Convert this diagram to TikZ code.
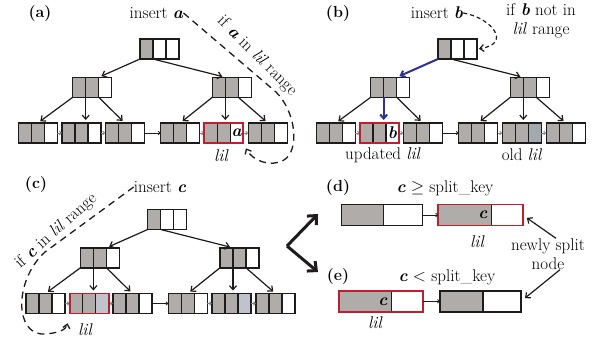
\documentclass[tikz,border=0pt]{standalone}
\usetikzlibrary{arrows.meta,calc,positioning}

\definecolor{keygray}{RGB}{176,172,170}
\definecolor{oldgray}{RGB}{164,168,175}
\definecolor{newgray}{RGB}{192,195,203}
\definecolor{lilred}{RGB}{190,30,45}
\definecolor{pathblue}{RGB}{46,49,146}
\definecolor{edge}{RGB}{30,27,28}

\tikzset{
  cell/.style={draw=edge,line width=1.5pt,fill=keygray,minimum width=13pt,minimum height=20pt,inner sep=0pt,outer sep=0pt},
  half/.style={draw=edge,line width=1.5pt,minimum height=21pt,inner sep=0pt,outer sep=0pt},
  ptr/.style={-{Straight Barb[length=4pt,width=7pt]},line width=1.2pt,draw=edge,shorten >=3pt},
  hot/.style={ptr,draw=pathblue,line width=2pt},
  link/.style={-{Straight Barb[length=2pt,width=3.5pt]},line width=0.8pt,draw=gray},
  lilbox/.style={draw=lilred,line width=1.9pt},
  txt/.style={font=\fontsize{17}{19}\selectfont,inner sep=0pt},
  tag/.style={font=\fontsize{16}{18}\selectfont\bfseries,inner sep=0pt},
  lil/.style={font=\fontsize{17}{19}\selectfont\itshape,inner sep=0pt},
  dashc/.style={draw=edge,line width=1.3pt,dash pattern=on 7pt off 5pt},
  dotc/.style={draw=edge,line width=1.2pt,dash pattern=on 4pt off 3pt},
  big/.style={-{Straight Barb[length=7pt,width=13pt]},line width=3pt,draw=edge},
}

% one tree node of three keys: name, first cell, fill of 2nd and 3rd cell
\newcommand{\keynode}[4]{%
  \node[cell] (#1-1) at (#2) {};
  \node[cell,fill=#3,right=0pt of #1-1] (#1-2) {};
  \node[cell,fill=#4,right=0pt of #1-2] (#1-3) {};
}

% the whole tree: prefix, last cell of leaf b, last cell of leaf e, style of path to leaf b
\newcommand{\btree}[4]{%
  \keynode{#1r}{146.5,49}{white}{white}
  \keynode{#1L}{79.2,87.3}{keygray}{white}
  \keynode{#1R}{218.8,87.3}{keygray}{white}
  \keynode{#1a}{24.8,133}{keygray}{white}
  \keynode{#1b}{68.5,133}{keygray}{#2}
  \keynode{#1c}{111.8,133}{keygray}{white}
  \keynode{#1d}{167.2,133}{keygray}{white}
  \keynode{#1e}{210.8,133}{keygray}{#3}
  \keynode{#1f}{254.8,133}{keygray}{white}
  \draw[#4] (#1r-1.south west) -- (#1L-2.north east);
  \draw[ptr] (#1r-1.south east) -- (#1R-1.north east);
  \draw[ptr] (#1L-1.south west) -- (#1a-2.north);
  \draw[#4] (#1L-1.south east) -- (#1L-1.south east |- #1b-2.north);
  \draw[ptr] (#1L-2.south east) -- (#1c-2.north);
  \draw[ptr] (#1R-1.south west) -- (#1d-2.north);
  \draw[ptr] (#1R-1.south east) -- (#1R-1.south east |- #1e-2.north);
  \draw[ptr] (#1R-2.south east) -- (#1f-2.north);
  \draw[link] (#1a-3.east) -- (#1b-1.west);
  \draw[link] (#1b-3.east) -- (#1c-1.west);
  \draw[link,draw=edge] (#1c-3.east) -- (#1d-1.west);
  \draw[link] (#1d-3.east) -- (#1e-1.west);
  \draw[link] (#1e-3.east) -- (#1f-1.west);
}

\begin{document}
\begin{tikzpicture}[x=1pt,y=-1pt]
\useasboundingbox (0,0) rectangle (592,343);

% (a)
\btree{A}{white}{white}{ptr}
\draw[lilbox] (Ae-1.south west) rectangle (Ae-3.north east);
\node[txt] (keyA) at (Ae-3) {\textbf{\textit{a}}};
\node[tag] (tagA) at (40,14) {(a)};
\node[txt] (insA) at (156.5,13) {insert \textbf{\textit{a}}};
\node[txt,rotate=-45] (ifA) at (257,56) {if \textbf{\textit{a}} in \textit{lil} range};
\node[lil] (lilA) at (221,156) {lil};
\draw[dashc,->,>={Straight Barb[length=4pt,width=7pt]},shorten >=6pt]
  (insA.east) -- (276,92) .. controls (296,112) and (300,150) .. (284,160)
  .. controls (270,168) and (252,160) .. (Ae-3.south east);

% (b)
\begin{scope}[xshift=298pt]
\btree{B}{white}{oldgray}{hot}
\end{scope}
\draw[lilbox] (Bb-1.south west) rectangle (Bb-3.north east);
\node[txt] (keyB) at (Bb-3) {\textbf{\textit{b}}};
\node[tag] (tagB) at (338,14) {(b)};
\node[txt] (insB) at (437,13) {insert \textbf{\textit{b}}};
\node[txt,align=center] (ifB) at (541,21) {if \textbf{\textit{b}} not in\\\textit{lil} range};
\node[txt] (updB) at (383,155) {updated \textit{lil}};
\node[txt] (oldB) at (522,155) {old \textit{lil}};
\draw[dotc,->,>={Straight Barb[length=4pt,width=7pt]},shorten >=2pt]
  (insB.east) .. controls (492,18) and (512,44) .. (Br-3.east);

% (c)
\begin{scope}[shift={(7.7,170.5)}]
\btree{C}{newgray}{newgray}{ptr}
\end{scope}
\draw[lilbox] (Cb-1.south west) rectangle (Cb-3.north east);
\node[tag] (tagC) at (36,185) {(c)};
\node[txt] (insC) at (160,187) {insert \textbf{\textit{c}}};
\node[txt,rotate=42] (ifC) at (56,231) {if \textbf{\textit{c}} in \textit{lil} range};
\node[lil] (lilC) at (85,330) {lil};
\draw[dashc,->,>={Straight Barb[length=4pt,width=7pt]},shorten >=10pt]
  (insC.west) -- (45,252) .. controls (14,280) and (14,336) .. (45,334)
  .. controls (58,333) and (66,330) .. (Cb-1.south west);

% split cases
\coordinate (fork) at (287,246);
\draw[big] (fork) -- ++(31,-32);
\draw[big] (fork) -- ++(31,26);

% (d)
\node[tag] (tagD) at (338,188) {(d)};
\node[txt] (condD) at (445,188) {\textbf{\textit{c}} $\geq$ split\_key};
\node[half,fill=keygray,minimum width=41.6pt] (d1k) at (362.5,215) {};
\node[half,fill=white,minimum width=39.4pt,right=0pt of d1k] (d1f) {};
\node[half,fill=keygray,minimum width=53.4pt] (d2k) at (465,215) {};
\node[half,fill=white,minimum width=31pt,right=0pt of d2k] (d2f) {};
\draw[lilbox] (d2k.south west) rectangle (d2f.north east);
\node[txt,anchor=east] (keyD) at ([xshift=-4pt]d2k.east) {\textbf{\textit{c}}};
\node[lil] (lilD) at (477,242) {lil};
\draw[link,draw=edge] (d1f.east) -- (d2k.west);

% (e)
\node[tag] (tagE) at (338,277) {(e)};
\node[txt] (condE) at (447,277) {\textbf{\textit{c}} $<$ split\_key};
\node[half,fill=keygray,minimum width=52.4pt] (e1k) at (365.5,301.3) {};
\node[half,fill=white,minimum width=31pt,right=0pt of e1k] (e1f) {};
\draw[lilbox] (e1k.south west) rectangle (e1f.north east);
\node[txt,anchor=east] (keyE) at ([xshift=-4pt]e1k.east) {\textbf{\textit{c}}};
\node[half,fill=keygray,minimum width=42.7pt] (e2k) at (461.4,301.3) {};
\node[half,fill=white,minimum width=38.3pt,right=0pt of e2k] (e2f) {};
\node[lil] (lilE) at (375,323) {lil};
\draw[link,draw=edge] (e1f.east) -- (e2k.west);

% newly split node
\node[txt,align=center] (nsn) at (548,254) {newly split\\node};
\draw[ptr,shorten >=5pt] ([xshift=8pt]nsn.north) -- (d2f.east);
\draw[ptr,shorten >=5pt] ([xshift=12pt]nsn.south) -- (e2f.east);
\end{tikzpicture}
\end{document}
